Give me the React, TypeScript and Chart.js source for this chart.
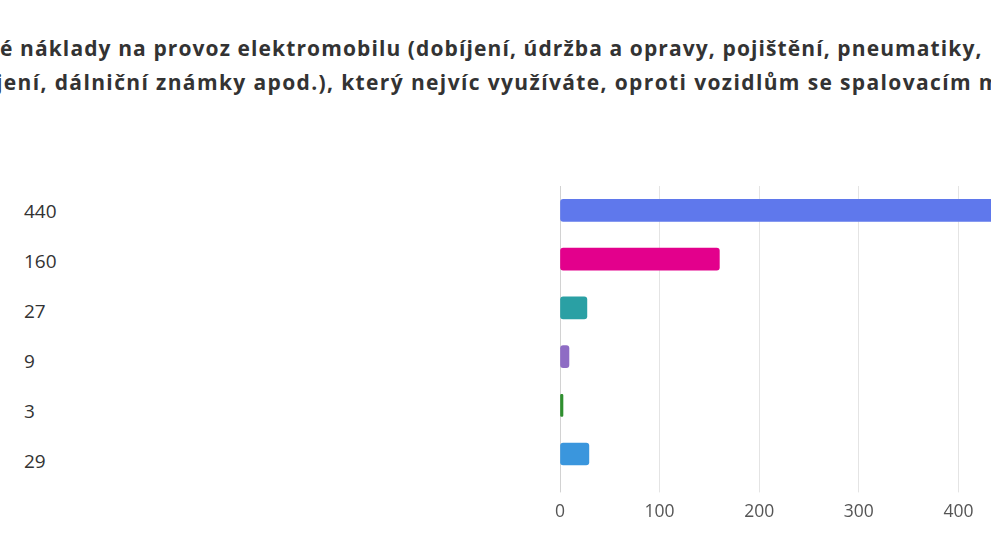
import { useEffect, useRef } from "react";
import { Chart, registerables } from "chart.js";

Chart.register(...registerables);

// answer counts, top to bottom
const categories = ["440", "160", "27", "9", "3", "29"];
const counts = [440, 160, 27, 9, 3, 29];
const barColors = ["#5f78ec", "#e3008c", "#2aa0a4", "#8e6cc4", "#2f8f2f", "#3a96dd"];
const xTicks = [0, 100, 200, 300, 400, 500];

const titleLines = [
  "é náklady na provoz elektromobilu (dobíjení, údržba a opravy, pojištění, pneumatiky,",
  "jení, dálniční známky apod.), který nejvíc využíváte, oproti vozidlům se spalovacím motorem?",
];

export default function App() {
  const chartRef = useRef<HTMLCanvasElement>(null);
  const chartInstance = useRef<Chart | null>(null);

  useEffect(() => {
    if (!chartRef.current) return;
    if (chartInstance.current) {
      chartInstance.current.destroy();
    }
    const ctx = chartRef.current.getContext("2d");
    if (!ctx) return;

    chartInstance.current = new Chart(ctx, {
      type: "bar",
      data: {
        labels: categories,
        datasets: [
          {
            data: counts,
            backgroundColor: barColors,
            borderWidth: 0,
            borderRadius: 3,
            borderSkipped: false,
            barThickness: 22,
          },
        ],
      },
      options: {
        indexAxis: "y",
        animation: false,
        responsive: true,
        maintainAspectRatio: false,
        layout: {
          padding: { left: 560, right: 142, top: 186, bottom: 25.6 },
        },
        plugins: {
          legend: { display: false },
          tooltip: { enabled: false },
        },
        scales: {
          y: {
            display: false,
          },
          x: {
            min: xTicks[0],
            max: xTicks[xTicks.length - 1],
            afterBuildTicks: (scale) => {
              scale.ticks = xTicks.map((v) => ({ value: v }));
            },
            border: { display: false },
            grid: {
              color: (c) => (c.index === 0 ? "#d2d2d2" : "#e4e4e4"),
              lineWidth: 1,
              drawTicks: true,
              tickLength: 14,
            },
            ticks: {
              color: "#555",
              padding: 9.5,
              font: { family: "'Open Sans', sans-serif", size: 17.5 },
            },
          },
        },
      },
    });

    return () => {
      if (chartInstance.current) {
        chartInstance.current.destroy();
        chartInstance.current = null;
      }
    };
  }, []);

  return (
    <div
      style={{
        position: "absolute",
        left: 0,
        top: 0,
        width: 991,
        height: 558,
        overflow: "hidden",
        background: "#fff",
        fontFamily: "'Open Sans', sans-serif",
      }}
    >
      {titleLines.map((t, i) => (
        <div
          key={i}
          style={{
            position: "absolute",
            left: i === 0 ? 0 : -4,
            top: 34 + i * 34,
            whiteSpace: "nowrap",
            fontWeight: 700,
            fontSize: 21,
            letterSpacing: i === 0 ? 1.1 : 1.37,
            lineHeight: "28px",
            color: "#333",
          }}
        >
          {t}
        </div>
      ))}
      <div style={{ position: "absolute", left: 24, top: 187.3 }}>
        {categories.map((c, i) => (
          <div
            key={i}
            style={{ height: 49.9, lineHeight: "49.9px", fontSize: 19, color: "#333" }}
          >
            {c}
          </div>
        ))}
      </div>
      <div style={{ position: "absolute", left: 0, top: 0, width: 1200, height: 558 }}>
        <canvas ref={chartRef} />
      </div>
    </div>
  );
}
